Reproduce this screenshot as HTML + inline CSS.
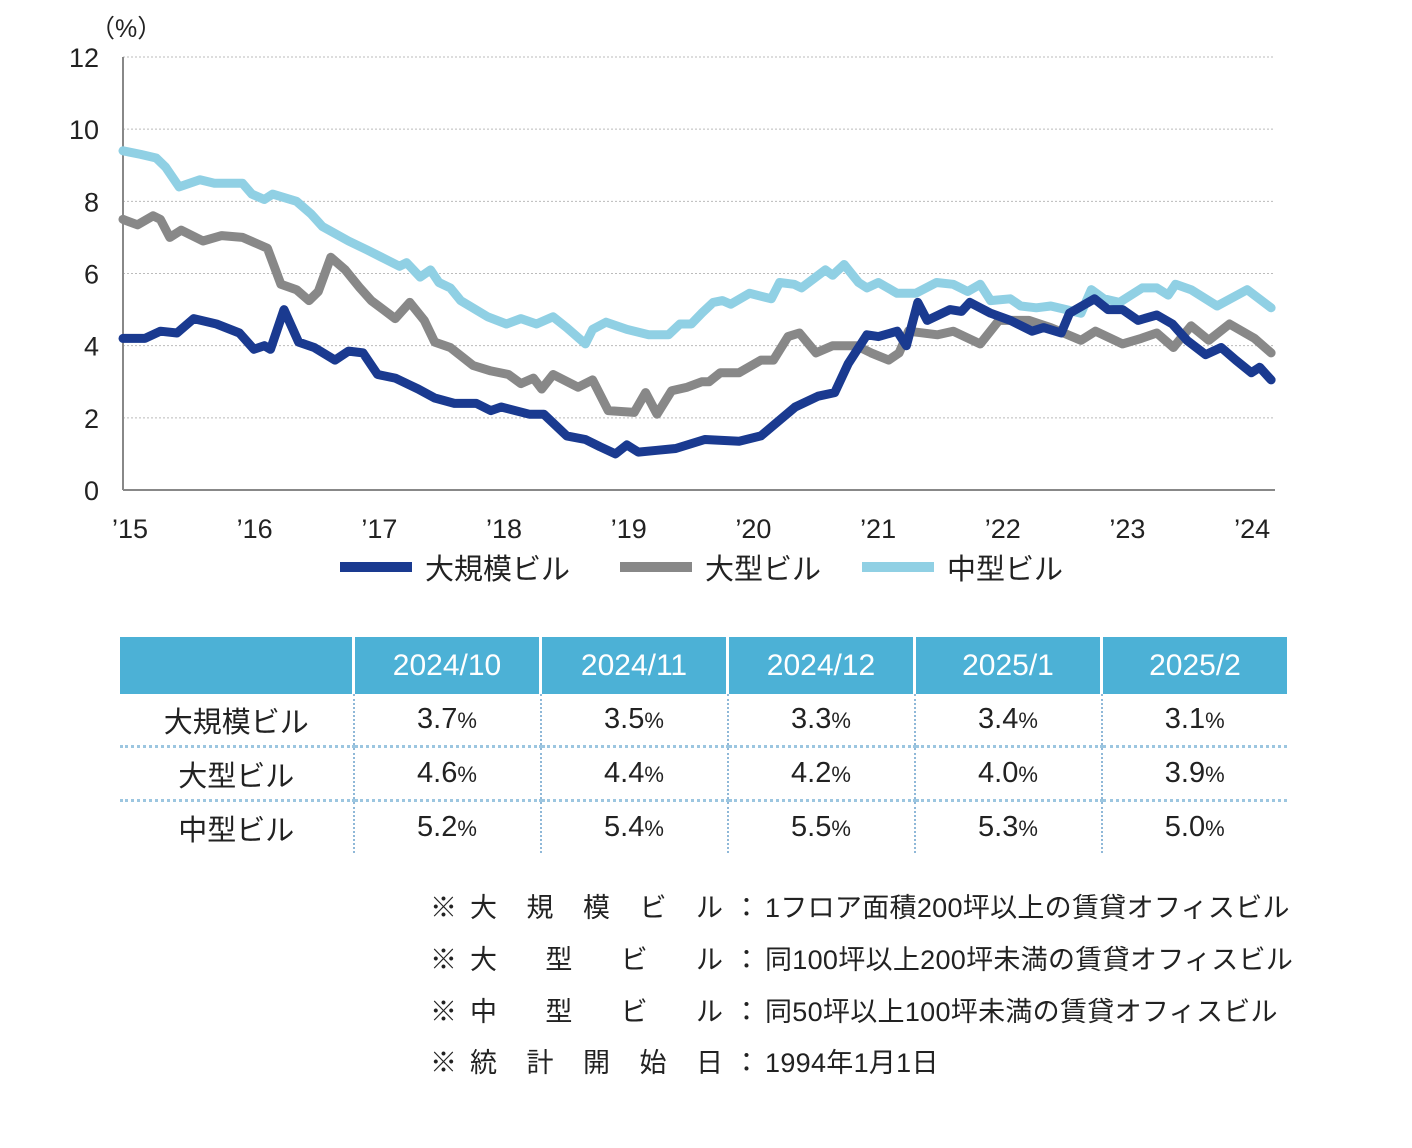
<!DOCTYPE html>
<html><head><meta charset="utf-8"><style>
body{margin:0;background:#fff;width:1412px;height:1148px;position:relative;font-family:"Liberation Sans","Noto Sans CJK JP",sans-serif;color:#222;overflow:hidden}
.abs{position:absolute}
table{position:absolute;left:120px;top:637px;border-collapse:collapse;font-size:29px}
td{height:51px;text-align:center;padding:0;border-left:2px dotted #8fb8d8}
td:first-child{border-left:none}
tr.b td{border-top:3px dotted #9cc6e0}
th{background:#4cb1d6;color:#fff;font-weight:normal;height:55px;border-left:3px solid #fff;font-size:30px}
th:first-child{border-left:none}
small{font-size:22px}
.note{position:absolute;left:430px;font-size:27px;height:34px;line-height:34px}
.note .k{position:absolute;left:40px;width:253px;text-align:justify;text-align-last:justify}
.note .c{position:absolute;left:303px}
.note .d{position:absolute;left:335px;white-space:nowrap;letter-spacing:0.3px}
</style></head><body>
<svg class="abs" style="left:0;top:0" width="1412" height="600" id="chart"></svg>

<table>
<tr><th style="width:230px"></th><th style="width:182px">2024/10</th><th style="width:182px">2024/11</th><th style="width:182px">2024/12</th><th style="width:182px">2025/1</th><th style="width:182px">2025/2</th></tr>
<tr><td>大規模ビル</td><td>3.7<small>%</small></td><td>3.5<small>%</small></td><td>3.3<small>%</small></td><td>3.4<small>%</small></td><td>3.1<small>%</small></td></tr>
<tr class="b"><td>大型ビル</td><td>4.6<small>%</small></td><td>4.4<small>%</small></td><td>4.2<small>%</small></td><td>4.0<small>%</small></td><td>3.9<small>%</small></td></tr>
<tr class="b"><td>中型ビル</td><td>5.2<small>%</small></td><td>5.4<small>%</small></td><td>5.5<small>%</small></td><td>5.3<small>%</small></td><td>5.0<small>%</small></td></tr>
</table>

<div class="note" style="top:891px">※<span class="k">大規模ビル</span><span class="c">：</span><span class="d">1フロア面積200坪以上の賃貸オフィスビル</span></div>
<div class="note" style="top:943px">※<span class="k">大型ビル</span><span class="c">：</span><span class="d">同100坪以上200坪未満の賃貸オフィスビル</span></div>
<div class="note" style="top:995px">※<span class="k">中型ビル</span><span class="c">：</span><span class="d">同50坪以上100坪未満の賃貸オフィスビル</span></div>
<div class="note" style="top:1046px">※<span class="k">統計開始日</span><span class="c">：</span><span class="d">1994年1月1日</span></div>

<script>
const yTicks=[0,2,4,6,8,10,12];
const xLabels=["’15","’16","’17","’18","’19","’20","’21","’22","’23","’24"];
const seriesNames=["大規模ビル","大型ビル","中型ビル"];
const monthsLarge=[0,2.1,3.6,5.2,6.8,9.0,11.2,12.6,13.6,14.2,15.5,16.9,18.4,20.4,21.7,23.1,24.5,26.2,28.4,30.0,31.9,34.0,35.4,36.4,39.1,40.5,42.7,44.5,45.9,47.4,48.5,49.6,51.4,53.2,56.0,59.3,61.4,64.7,66.9,68.5,69.8,71.6,72.7,74.5,75.4,76.5,77.4,79.6,80.7,81.5,83.5,85.4,87.5,88.6,90.3,91.1,93.5,94.8,96.2,97.7,99.5,101.0,102.4,104.2,105.7,107.1,108.6,109.4,110.5];
const valuesLarge=[4.2,4.2,4.4,4.35,4.75,4.6,4.35,3.9,4.0,3.9,5.0,4.1,3.95,3.6,3.85,3.8,3.2,3.1,2.8,2.55,2.4,2.4,2.2,2.3,2.1,2.1,1.5,1.4,1.2,1.0,1.25,1.05,1.1,1.15,1.4,1.35,1.5,2.3,2.6,2.7,3.5,4.3,4.25,4.4,4.0,5.2,4.7,5.0,4.95,5.2,4.9,4.7,4.4,4.5,4.35,4.9,5.3,5.0,5.0,4.7,4.85,4.6,4.15,3.75,3.95,3.6,3.25,3.4,3.05];
const monthsBig=[0,1.4,2.9,3.6,4.5,5.6,7.7,9.5,11.5,13.9,15.2,16.7,17.9,18.8,20.0,21.4,22.8,23.9,26.2,27.6,29.0,30.0,31.5,33.7,35.4,37.1,38.3,39.5,40.3,41.4,43.8,45.2,46.7,49.2,50.3,51.4,52.8,54.3,55.7,56.4,57.5,59.3,61.4,62.6,64.0,65.1,66.7,68.3,70.6,72.0,73.7,74.7,75.6,78.4,79.9,82.5,84.3,87.2,89.3,92.2,93.6,96.2,98.0,99.5,101.1,102.8,104.5,106.5,108.9,110.5];
const valuesBig=[7.5,7.35,7.6,7.5,7.0,7.2,6.9,7.05,7.0,6.7,5.7,5.55,5.25,5.5,6.45,6.1,5.6,5.25,4.75,5.2,4.7,4.1,3.95,3.45,3.3,3.2,2.95,3.1,2.8,3.2,2.85,3.05,2.2,2.15,2.7,2.1,2.75,2.85,3.0,3.0,3.25,3.25,3.6,3.6,4.25,4.35,3.8,4.0,4.0,3.8,3.6,3.8,4.4,4.3,4.4,4.05,4.7,4.7,4.5,4.15,4.4,4.05,4.2,4.35,3.95,4.55,4.15,4.6,4.2,3.8];
const monthsMid=[0,1.7,3.2,4.1,5.4,7.4,8.8,11.5,12.4,13.6,14.4,16.7,18.1,19.2,21.7,23.5,24.9,26.6,27.3,28.6,29.6,30.4,31.5,32.5,35.1,36.9,38.3,39.8,41.4,42.7,44.5,45.2,46.5,48.5,50.6,52.5,53.6,54.7,55.7,56.8,57.7,58.5,60.3,62.4,63.2,64.6,65.3,67.6,68.3,69.4,70.8,71.6,72.7,74.5,76.3,78.3,79.9,81.3,82.5,83.5,85.4,86.4,87.9,89.3,90.8,92.2,93.2,94.4,95.9,98.1,99.5,100.6,101.3,102.8,105.3,108.2,110.5];
const valuesMid=[9.4,9.3,9.2,8.95,8.4,8.6,8.5,8.5,8.2,8.05,8.2,8.0,7.65,7.3,6.9,6.65,6.45,6.2,6.3,5.9,6.1,5.75,5.6,5.25,4.8,4.6,4.75,4.6,4.8,4.5,4.05,4.45,4.65,4.45,4.3,4.3,4.6,4.6,4.9,5.2,5.25,5.15,5.45,5.3,5.75,5.7,5.6,6.1,5.95,6.25,5.75,5.6,5.75,5.45,5.45,5.75,5.7,5.5,5.7,5.25,5.3,5.1,5.05,5.1,5.0,4.9,5.55,5.3,5.2,5.6,5.6,5.4,5.7,5.55,5.1,5.55,5.05];

const NS="http://www.w3.org/2000/svg";
const svg=document.getElementById('chart');
const X0=123,X1=1275,Y0=490,Y12=57;
const x=m=>X0+m*10.39;
const y=v=>Y0-(v/12)*(Y0-Y12);
function mk(t,a){const e=document.createElementNS(NS,t);for(const k in a)e.setAttribute(k,a[k]);svg.appendChild(e);return e;}
yTicks.forEach(v=>{
  if(v>0){const g=mk('line',{x1:X0,x2:X1,y1:y(v),y2:y(v),stroke:'#bbb','stroke-width':1,'stroke-dasharray':'2,2'});
  
  }
  const t=mk('text',{x:99,y:y(v)+10,'text-anchor':'end','font-size':27,fill:'#222'});t.textContent=v;
  
  
});
const ya=mk('line',{x1:X0,x2:X0,y1:Y12,y2:Y0,stroke:'#888','stroke-width':2});


const xa=mk('line',{x1:X0,x2:X1,y1:Y0,y2:Y0,stroke:'#888','stroke-width':2});


const u=mk('text',{x:90,y:37,'font-size':25,fill:'#222'});u.textContent='（%）';


xLabels.forEach((l,i)=>{const t=mk('text',{x:x(i*12)+7,y:538,'text-anchor':'middle','font-size':27,fill:'#222'});t.textContent=l;
  
  });
const colors=['#1a3a90','#888888','#90d0e4'];
[[monthsMid,valuesMid,2],[monthsBig,valuesBig,1],[monthsLarge,valuesLarge,0]].forEach(([ms,vs,ci])=>{
  const p=mk('polyline',{points:ms.map((m,i)=>x(m).toFixed(1)+','+y(vs[i]).toFixed(1)).join(' '),fill:'none',stroke:colors[ci],'stroke-width':9,'stroke-linejoin':'round','stroke-linecap':'round'});
  
  
});
const lx=[340,620,862];
seriesNames.forEach((n,i)=>{
  const l=mk('line',{x1:lx[i],x2:lx[i]+72,y1:567,y2:567,stroke:colors[i],'stroke-width':10});
  
  
  const t=mk('text',{x:lx[i]+85,y:579,'font-size':29,fill:'#222'});t.textContent=n;
  
  
});
</script>
</body></html>
